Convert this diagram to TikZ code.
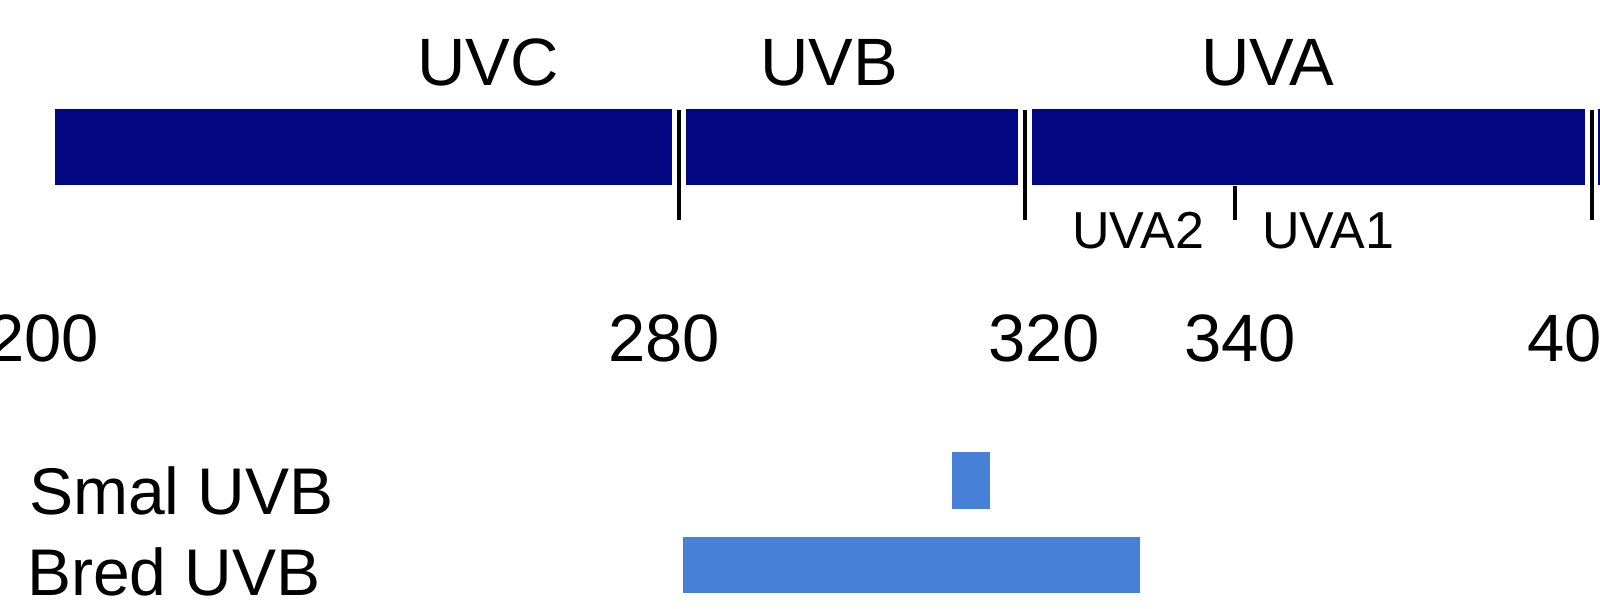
\documentclass[tikz,border=0pt]{standalone}
\usepackage{fontspec}
\setmainfont{Liberation Sans}
\definecolor{navy}{RGB}{2,6,128}
\definecolor{lightbar}{RGB}{72,128,216}
\begin{document}
\begin{tikzpicture}[x=1pt,y=-1pt,
  bigtxt/.style={inner sep=0pt,anchor=base,font=\fontsize{67}{67}\selectfont},
  subtxt/.style={inner sep=0pt,anchor=base,font=\fontsize{52}{52}\selectfont},
  numtxt/.style={inner sep=0pt,anchor=base,font=\fontsize{67}{67}\selectfont},
  legtxt/.style={inner sep=0pt,anchor=base west,font=\fontsize{66}{66}\selectfont},
  seg/.style={fill=navy},
  tickline/.style={draw=black,line width=3.5pt},
  lbar/.style={fill=lightbar}]
\useasboundingbox (0,0) rectangle (1600,609);
\clip (0,0) rectangle (1600,609);
\fill[white] (0,0) rectangle (1600,609);
% spectrum bar segments
\fill[seg] (55,109) rectangle (672,185);
\fill[seg] (686,109) rectangle (1018,185);
\fill[seg] (1032,109) rectangle (1585,185);
\fill[seg] (1598,109) rectangle (1610,185);
% ticks
\coordinate (t1a) at (679,110); \coordinate (t1b) at (679,220);
\coordinate (t2a) at (1025,110); \coordinate (t2b) at (1025,220);
\coordinate (t3a) at (1592,110); \coordinate (t3b) at (1592,220);
\coordinate (t4a) at (1235,186); \coordinate (t4b) at (1235,220);
\draw[tickline] (t1a) -- (t1b);
\draw[tickline] (t2a) -- (t2b);
\draw[tickline] (t3a) -- (t3b);
\draw[tickline] (t4a) -- (t4b);
% band labels
\node[bigtxt] (uvc) at (488,86) {UVC};
\node[bigtxt] (uvb) at (829,86) {UVB};
\node[bigtxt] (uva) at (1268,86) {UVA};
\node[subtxt] (uva2) at (1138,249) {UVA2};
\node[subtxt] (uva1) at (1328,249) {UVA1};
% wavelength numbers
\node[numtxt] (n200) at (43,362) {200};
\node[numtxt] (n280) at (664,362) {280};
\node[numtxt] (n320) at (1044,362) {320};
\node[numtxt] (n340) at (1240,362) {340};
\node[numtxt] (n400) at (1583,362) {400};
% legend
\node[legtxt] (smal) at (29,514) {Smal UVB};
\node[legtxt] (bred) at (27,595) {Bred UVB};
\fill[lbar] (952,452) rectangle (990,509);
\fill[lbar] (683,537) rectangle (1140,593);
\end{tikzpicture}
\end{document}
